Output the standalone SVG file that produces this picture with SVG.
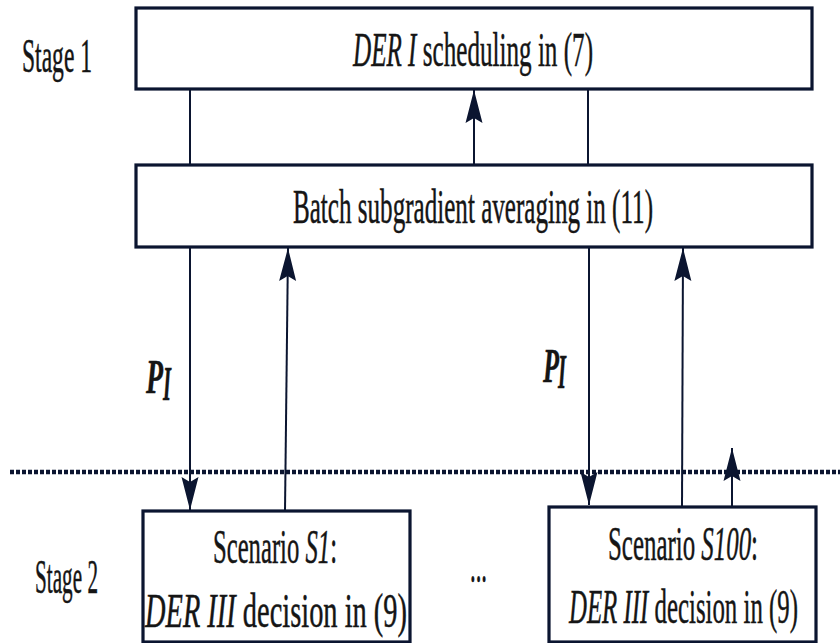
<svg xmlns="http://www.w3.org/2000/svg" width="840" height="643" viewBox="0 0 840 643">
<style>
  .box { fill: #ffffff; stroke: #0b1530; stroke-width: 3.2; }
  .ln { stroke: #0b1530; stroke-width: 2; fill: none; }
  .arr { stroke: #0b1530; stroke-width: 2; fill: none; marker-end: url(#ah); }
  .dash { stroke: #0b1530; stroke-width: 4.5; stroke-dasharray: 4 2; fill: none; }
  text { font-family: "Liberation Serif", "Times New Roman", serif; fill: #151515; stroke: #151515; stroke-width: 0.5; font-size: 48px; }
  .it { font-style: italic; }
  .bi { font-style: italic; font-weight: bold; }
</style>
<defs>
  <marker id="ah" markerUnits="userSpaceOnUse" markerWidth="40" markerHeight="24" viewBox="-36 -12 40 24" refX="0" refY="0" orient="auto">
    <path d="M0,0 L-33,-8.5 L-28,0 L-33,8.5 Z" fill="#0b1530"/>
  </marker>
</defs>
<rect width="840" height="643" fill="#ffffff"/>

<g id="stage-labels">
  <text x="22" y="72" textLength="70" lengthAdjust="spacingAndGlyphs">Stage 1</text>
  <text x="35" y="593" textLength="63" lengthAdjust="spacingAndGlyphs">Stage 2</text>
</g>

<g id="separator">
  <line class="dash" x1="10" y1="472" x2="840" y2="472"/>
</g>

<g id="node-der1">
  <rect class="box" x="136" y="8" width="676" height="81"/>
  <text x="353" y="66" font-size="50" textLength="240" lengthAdjust="spacingAndGlyphs"><tspan class="it">DER I</tspan> scheduling in (7)</text>
</g>

<g id="node-batch">
  <rect class="box" x="136" y="165" width="676" height="82"/>
  <text x="293" y="223" font-size="50" textLength="360" lengthAdjust="spacingAndGlyphs">Batch subgradient averaging in (11)</text>
</g>

<g id="node-s1">
  <rect class="box" x="143" y="511" width="267" height="131"/>
  <text x="213" y="563" font-size="50" textLength="124" lengthAdjust="spacingAndGlyphs">Scenario <tspan class="it">S1</tspan>:</text>
  <text x="145" y="627" font-size="50" textLength="262" lengthAdjust="spacingAndGlyphs"><tspan class="it">DER III</tspan> decision in (9)</text>
</g>

<g id="node-s100">
  <rect class="box" x="549" y="507" width="267" height="135"/>
  <text x="608" y="560" font-size="50" textLength="150" lengthAdjust="spacingAndGlyphs">Scenario <tspan class="it">S100</tspan>:</text>
  <text x="569" y="623" font-size="50" textLength="229" lengthAdjust="spacingAndGlyphs"><tspan class="it">DER III</tspan> decision in (9)</text>
</g>

<g id="ellipsis">
  <text x="470" y="582" font-size="30" textLength="17" lengthAdjust="spacingAndGlyphs">...</text>
</g>

<g id="connectors">
  <line class="ln" x1="190" y1="89" x2="190" y2="165"/>
  <line class="ln" x1="588" y1="89" x2="588" y2="165"/>
  <line class="arr" x1="474" y1="165" x2="474" y2="90"/>
  <line class="arr" x1="190" y1="247" x2="190" y2="510"/>
  <line class="arr" x1="285" y1="511" x2="288" y2="248"/>
  <line class="arr" x1="589" y1="247" x2="589" y2="505"/>
  <line class="arr" x1="682" y1="507" x2="683" y2="248"/>
  <line class="arr" x1="732" y1="507" x2="732" y2="448"/>
</g>

<g id="labels">
  <text class="bi" x="146" y="393" font-size="48" textLength="17" lengthAdjust="spacingAndGlyphs">P</text>
  <text class="bi" x="163" y="400" font-size="26" textLength="8" lengthAdjust="spacingAndGlyphs">I</text>
  <text class="bi" x="543" y="382" font-size="48" textLength="16" lengthAdjust="spacingAndGlyphs">P</text>
  <text class="bi" x="558" y="388" font-size="26" textLength="8" lengthAdjust="spacingAndGlyphs">I</text>
</g>
</svg>
